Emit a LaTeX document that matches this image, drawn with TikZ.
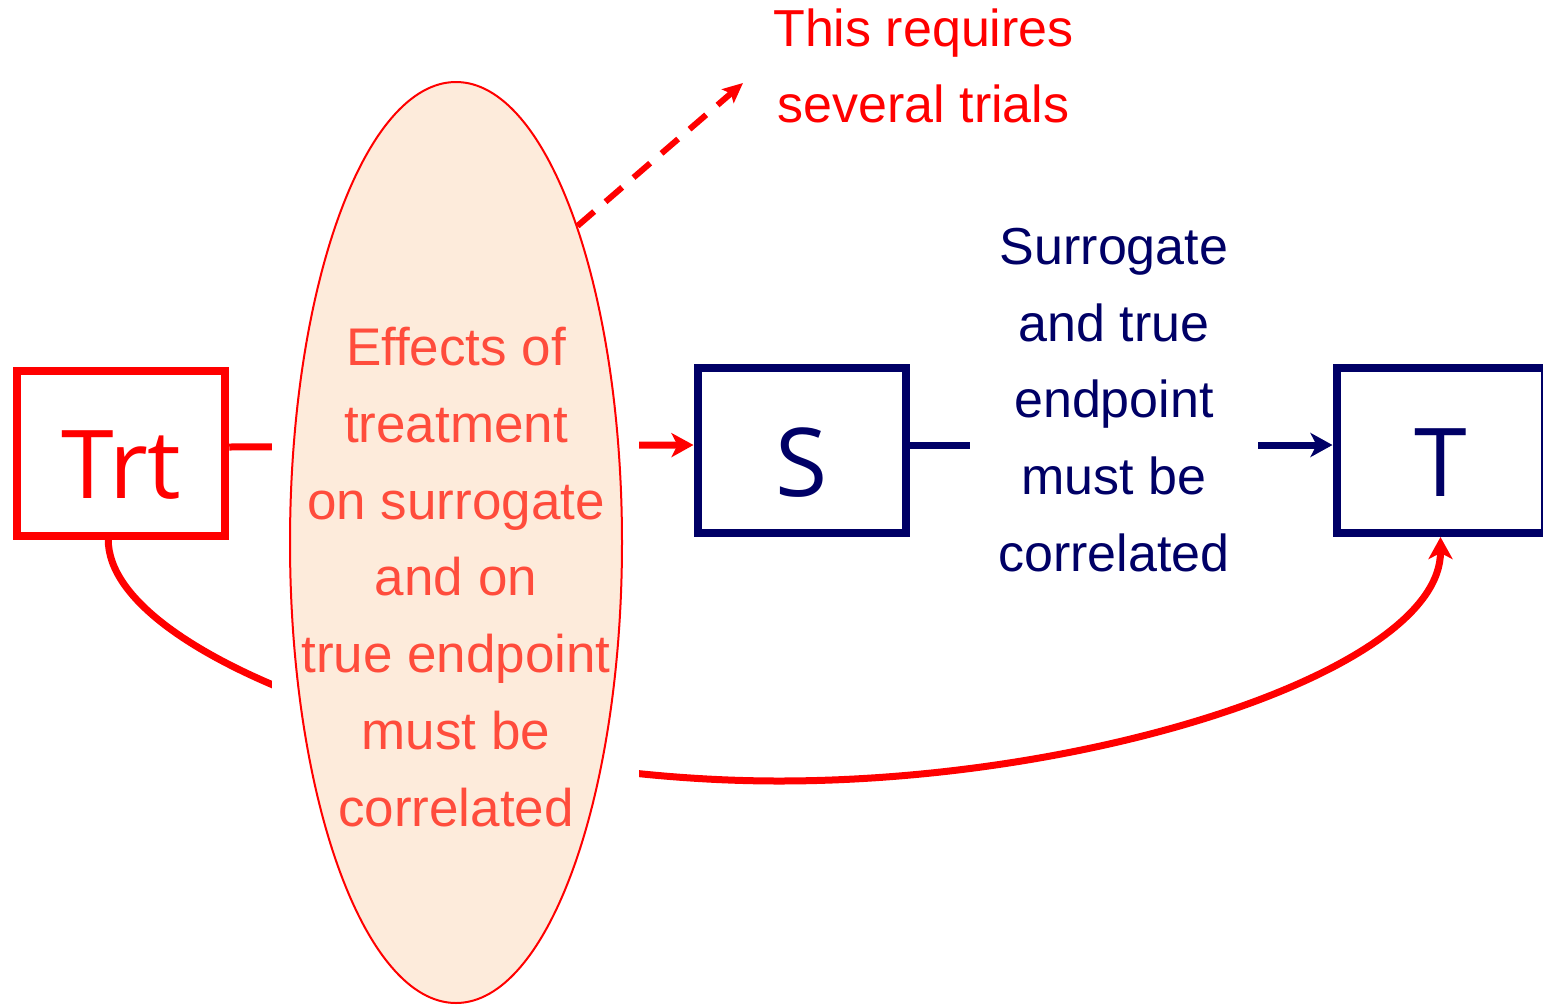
\documentclass[tikz,border=0pt]{standalone}
\usepackage{fontspec}
\setmainfont{Liberation Sans}
\newfontfamily\boxfont{Open Sans}
\usetikzlibrary{arrows.meta,shapes.geometric,calc}
\definecolor{navy}{RGB}{0,0,102}
\definecolor{tomato}{RGB}{255,76,60}
\definecolor{peach}{RGB}{253,235,219}
\begin{document}
\begin{tikzpicture}[x=1pt,y=-1pt,
  box/.style={draw, line width=8pt, minimum width=208pt, minimum height=165pt,
    inner sep=0pt, text height=91pt, text depth=0pt,
    font=\boxfont\fontsize{95}{95}\selectfont},
  conn/.style={line width=7pt},
  tipA/.style={-{Stealth[length=22pt,width=24pt,inset=6pt]}},
  tipB/.style={-{Stealth[length=20pt,width=18pt,inset=4pt]}},
  txt/.style={inner sep=0pt, align=center}
]
\path[use as bounding box, fill=white] (0,0) rectangle (1543,1005);

% boxes
\node[box, draw=red, text=red] (trt) at (121.25,453) {Trt};
\node[box, draw=navy, text=navy] (s) at (801.5,450.5) {S};
\node[box, draw=navy, text=navy] (t) at (1440.5,450.5) {T};

% connectors
\draw[conn, red, tipA] ($(trt.east)+(0,-6)$) -- ($(s.west)+(0,-5.5)$);
\draw[conn, navy, tipA] ($(s.east)+(0,-5.5)$) -- ($(t.west)+(0,-5.5)$);
\draw[conn, red, tipA] ($(trt.south)+(-13,0)$)
   .. controls (108,658) and (459,781) .. (779,781)
   .. controls (1099,781) and (1440.5,669) .. (t.south);

% label between S and T
\node[txt, fill=white, minimum width=288pt, text=navy,
      font=\fontsize{52}{76.75}\selectfont] (corr) at (1114,400)
  {Surrogate\\and true\\endpoint\\must be\\correlated};

% mask behind the ellipse
\fill[white] (272,425) rectangle (639,805);

% ellipse
\node[ellipse, draw=red, line width=2pt, fill=peach, minimum width=332pt,
      minimum height=921pt, inner sep=0pt] (eff) at (456,542.5) {};
\node[txt, text=tomato, font=\fontsize{53}{76.8}\selectfont] (efftext) at (456,577)
  {Effects of\\treatment\\on surrogate\\and on\\true endpoint\\must be\\correlated};

% dashed arrow
\coordinate (trialsend) at (743,83);
\draw[red, line width=6pt, dash pattern=on 22pt off 15pt, tipB] (eff.69.6) -- (trialsend);
\node[txt, text=red, font=\fontsize{52}{76.3}\selectfont] (trials) at (923.5,66)
  {This requires\\several trials};
\end{tikzpicture}
\end{document}
